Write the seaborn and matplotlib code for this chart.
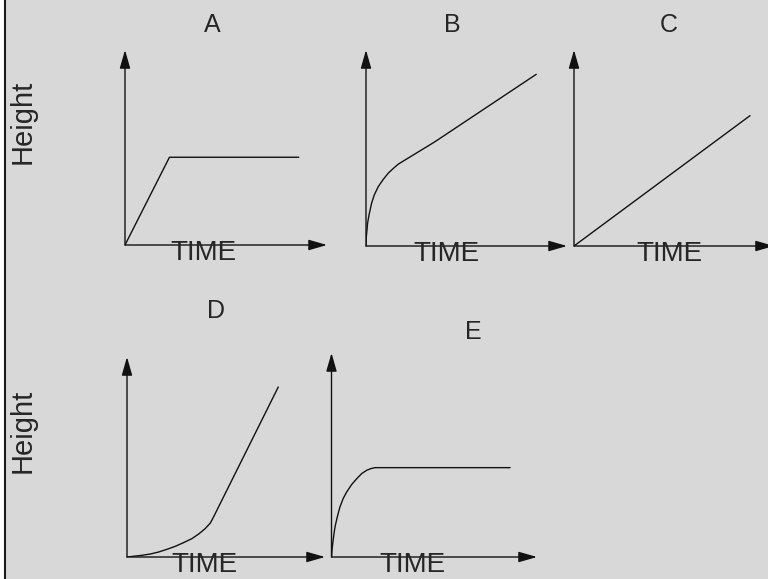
#graficos de altura vs tiempo (A-E), dibujados con seaborn
import matplotlib
matplotlib.use('Agg')
import matplotlib.pyplot as plt
from matplotlib.patches import Rectangle
from matplotlib.lines import Line2D
import pandas as pd
import seaborn as sns

#datos: tiempo y altura en % de cada eje
a_time = [0, 22, 86]
a_height = [0, 45, 45]

b_time = [0, 0.15, 0.5, 0.8, 1.5, 2.8, 4.1, 6.1, 8.6, 11.1, 13.6, 16.1, 34.3, 84.7]
b_height = [0, 4.7, 8.2, 11.7, 15.8, 21.9, 26.0, 30.3, 34.0, 37.2, 39.6, 41.8, 53.2, 87.6]

c_time = [0, 88]
c_height = [0, 66.5]

d_time = [0, 7.6, 11.8, 16.0, 20.2, 24.4, 28.6, 32.8, 36.2, 39.5, 42.1, 43.7, 76.4]
d_height = [0, 0.85, 1.5, 2.5, 3.85, 5.35, 7.2, 9.2, 11.5, 14.2, 17.0, 20.0, 85.0]

e_time = [0, 0.24, 0.6, 1.1, 1.7, 2.8, 4.1, 5.7, 7.4, 9.8, 12.3, 14.7, 17.1, 19.1, 21.2, 86.9]
e_height = [0, 3.3, 6.6, 10.6, 14.7, 19.6, 24.5, 28.7, 31.9, 35.5, 38.4, 40.9, 42.5, 43.3, 43.8, 43.8]

panel_names = ['A', 'B', 'C', 'D', 'E']
x_label = 'TIME'
y_label = 'Height'

W, H = 768, 579
BG = '#d8d8d8'

#cajas de cada panel en pixeles: (origen x, origen y, punta eje x, punta eje y)
boxes = {
    'A': (125, 245, 327, 50),
    'B': (366, 246, 567, 50),
    'C': (574, 246, 774, 50),
    'D': (127, 557, 325, 357),
    'E': (331.5, 557, 537, 353),
}
#posicion del titulo y de TIME (x centro, y base)
title_pos = {'A': (212, 31.5), 'B': (452, 31.5), 'C': (669, 31.5),
             'D': (216, 318), 'E': (473, 339)}
time_pos = {'A': (203, 260), 'B': (446, 261), 'C': (669, 261),
            'D': (204, 572), 'E': (412, 572)}

sns.set_style('white')
plt.rcParams['font.family'] = ['Liberation Sans', 'DejaVu Sans']

fig = plt.figure(figsize=(W / 100, H / 100), dpi=100, facecolor=BG)

#borde izquierdo
fig.patches.append(Rectangle((0, 0), 4 / W, 1, transform=fig.transFigure,
                             facecolor='white', edgecolor='none'))
fig.add_artist(Line2D([5 / W, 5 / W], [0, 1], transform=fig.transFigure,
                      color='#1a1a1a', lw=1.5))

data = {
    'A': (a_time, a_height),
    'B': (b_time, b_height),
    'C': (c_time, c_height),
    'D': (d_time, d_height),
    'E': (e_time, e_height),
}

arrow = dict(arrowstyle='-|>,head_length=0.8,head_width=0.23', mutation_scale=14,
             lw=1.0, color='#111111', shrinkA=0, shrinkB=0)


def px(x, y):
    return x / W, 1 - y / H


for name in panel_names:
    x0, y0, x1, y1 = boxes[name]
    left, bottom = px(x0, y0)
    ax = fig.add_axes([left, bottom, (x1 - x0) / W, (y0 - y1) / H])
    ax.set_xlim(0, 100)
    ax.set_ylim(0, 100)
    ax.axis('off')
    ax.patch.set_alpha(0)

    t, h = data[name]
    df = pd.DataFrame({'time': t, 'height': h})
    sns.lineplot(data=df, x='time', y='height', ax=ax, color='#111111', lw=1.0,
                 sort=False, estimator=None)

    #ejes con flecha
    ax.annotate('', xy=(1, 0), xytext=(0, 0), xycoords='axes fraction',
                arrowprops=arrow, annotation_clip=False)
    ax.annotate('', xy=(0, 1), xytext=(0, 0), xycoords='axes fraction',
                arrowprops=arrow, annotation_clip=False)

    tx, ty = title_pos[name]
    fig.text(*px(tx, ty), name, fontsize=18, ha='center', va='baseline')
    mx, my = time_pos[name]
    fig.text(*px(mx, my), x_label, fontsize=20, ha='center', va='baseline')

#etiquetas del eje y
fig.text(*px(23, 122), y_label, fontsize=21, rotation=90, ha='center', va='center')
fig.text(*px(23, 431), y_label, fontsize=21, rotation=90, ha='center', va='center')

fig.savefig('out.png', dpi=100, facecolor=fig.get_facecolor())
